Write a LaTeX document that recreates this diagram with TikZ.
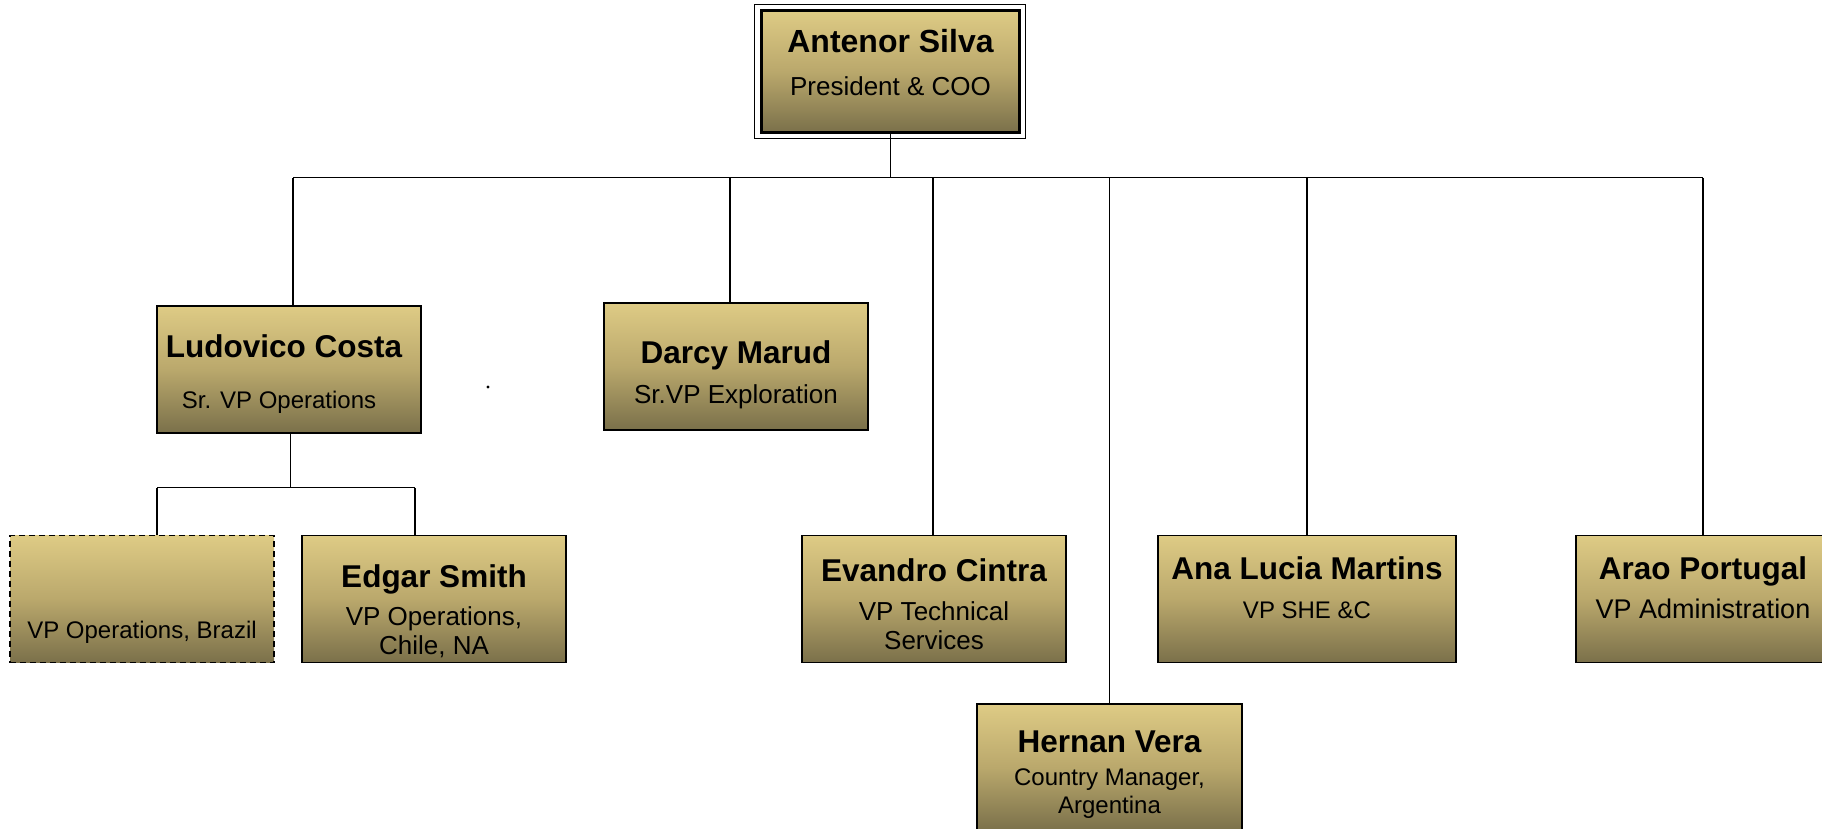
\documentclass[tikz,border=0pt]{standalone}
\usepackage{fontspec}
\setmainfont{Liberation Sans}
\usetikzlibrary{calc}

\definecolor{goldtop}{RGB}{222,203,133}
\definecolor{goldmid}{RGB}{186,168,108}
\definecolor{goldbot}{RGB}{122,112,74}

\tikzset{
  box/.style={draw, line width=1.5pt, inner sep=0pt, minimum width=264pt, minimum height=127pt,
    top color=goldtop, bottom color=goldbot, middle color=goldmid},
  who/.style={font=\fontsize{31.5}{36}\selectfont\bfseries, inner sep=0pt},
  role/.style={font=\fontsize{26}{29}\selectfont, align=center, inner sep=0pt},
  rolesm/.style={role, font=\fontsize{24}{28}\selectfont},
  wire/.style={line width=1.3pt},
}

\begin{document}
\begin{tikzpicture}[x=1pt, y=-1pt]
  \useasboundingbox (0,0) rectangle (1822,829);
  \clip (0,0) rectangle (1822,829);

  % president
  \node[box, minimum width=258pt, minimum height=122pt, line width=2.6pt] (pres) at (890.5,71.5) {};
  \draw[line width=1.2pt] ([shift={(-6,-5)}]pres.north west) rectangle ([shift={(5,5)}]pres.south east);
  \node[who, font=\fontsize{32}{36}\selectfont\bfseries] (presN) at ([yshift=-32pt]pres.north) {Antenor Silva};
  \node[role] (presR) at ([yshift=-77pt]pres.north) {President \& COO};

  % first row
  \node[box] (lud) at (289,369.5) {};
  \node[who] (ludN) at ([shift={(-5pt,-41pt)}]lud.north) {Ludovico Costa};
  \node[rolesm] (ludR) at ([shift={(-10pt,-97pt)}]lud.north) {Sr. VP Operations};

  \node[box] (darcy) at (736,366.5) {};
  \node[who] (darcyN) at ([yshift=-53pt]darcy.north) {Darcy Marud};
  \node[role] (darcyR) at ([yshift=-95pt]darcy.north) {Sr.VP Exploration};

  \node[circle, fill, inner sep=1.2pt] (dot) at (488,387) {};

  % second row
  \node[box, line width=1.8pt, dash pattern=on 6pt off 4pt] (brazil) at (142,599) {};
  \node[rolesm] (brazilR) at ([yshift=-98pt]brazil.north) {VP Operations, Brazil};

  \node[box] (edgar) at (434,599) {};
  \node[who] (edgarN) at ([yshift=-45pt]edgar.north) {Edgar Smith};
  \node[role] (edgarR) at ([yshift=-97pt]edgar.north) {VP Operations,\\Chile, NA};

  \node[box] (evan) at (934,599) {};
  \node[who] (evanN) at ([yshift=-35pt]evan.north) {Evandro Cintra};
  \node[role] (evanR) at ([yshift=-91pt]evan.north) {VP Technical\\Services};

  \node[box, minimum width=298pt] (ana) at (1307,599) {};
  \node[who] (anaN) at ([yshift=-33pt]ana.north) {Ana Lucia Martins};
  \node[rolesm] (anaR) at ([yshift=-75pt]ana.north) {VP SHE \&C};

  \node[box, minimum width=254pt] (arao) at (1703,599) {};
  \node[who] (araoN) at ([yshift=-37pt]arao.north) {Arao Portugal};
  \node[role, font=\fontsize{27}{30}\selectfont] (araoR) at ([yshift=-74pt]arao.north) {VP Administration};

  \node[box, minimum width=265pt] (hern) at (1109.5,767.5) {};
  \node[who] (hernN) at ([yshift=-39pt]hern.north) {Hernan Vera};
  \node[rolesm] (hernR) at ([yshift=-90pt]hern.north) {Country Manager,\\Argentina};

  % trunk
  \draw[wire] (pres.south) -- ++(0,44) coordinate (bus);
  \draw[wire] ($(bus -| lud.north)+(4,0)$) -- (bus -| arao.north);
  \foreach \n/\dx in {lud/4, darcy/-6, evan/-1, hern/0, ana/0, arao/0} {
    \draw[wire] ($(bus -| \n.north)+(\dx,0)$) -- ($(\n.north)+(\dx,0)$);
  }

  % under ludovico
  \draw[wire] ($(lud.south)+(1.5,0)$) -- ++(0,54) coordinate (sub);
  \draw[wire] ($(sub -| brazil.north)+(15,0)$) -- ($(sub -| edgar.north)+(-19,0)$);
  \foreach \n/\dx in {brazil/15, edgar/-19} {
    \draw[wire] ($(sub -| \n.north)+(\dx,0)$) -- ($(\n.north)+(\dx,0)$);
  }
\end{tikzpicture}
\end{document}
